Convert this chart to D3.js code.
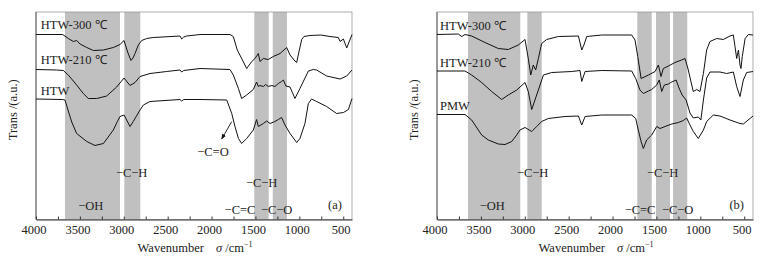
<!DOCTYPE html>
<html>
<head>
<meta charset="utf-8">
<script src="https://cdn.jsdelivr.net/npm/d3@7"></script>
<style>
  html, body { margin: 0; padding: 0; background: #fff; }
  svg text { font-family: "Liberation Serif", "Times New Roman", serif; fill: #222; }
</style>
</head>
<body>
<div id="chart"></div>
<script>
// FTIR spectra, two panels (wavenumber, transmittance a.u.)

const X_TICKS = [4000, 3500, 3000, 2500, 2000, 1500, 1000, 500];
const X_MINOR = d3.range(4000, 399, -250);

// panel (a)
const A_HTW300 = [[4000,185],[3696,185],[3632,181],[3574,178],[3537,179],[3498,175.5],[3422,172],[3346,169],[3232,169.5],[3119,172],[3043,175],[2997,179],[2956,167.5],[2918,159],[2895,161.5],[2872,166],[2834,174.5],[2796,179],[2739,181],[2664,182],[2360,183.5],[2340,180.5],[2317,182.5],[2283,183.5],[2131,185],[1790,185],[1752,183],[1707,169.5],[1648,159.5],[1600,151],[1542,158],[1505,161],[1467,166],[1448,158],[1410,161],[1354,160],[1297,163],[1220,166],[1144,172],[1106,164.5],[1050,158.5],[1030,157],[1012,164.5],[973,180],[948,183],[878,184],[755,184.5],[651,183],[556,182],[536,178],[498,180.5],[460,171.5],[400,185]];
const A_HTW210 = [[4000,150],[3764,149.5],[3689,149],[3632,144.5],[3537,134.5],[3461,126],[3404,121],[3308,121],[3195,123.5],[3081,132.5],[2997,141.5],[2929,134],[2872,137],[2815,143],[2701,146],[2512,148],[2360,149.5],[2340,147.5],[2317,149],[2131,151],[1790,150],[1752,144.5],[1694,131],[1657,121],[1600,124.5],[1524,130],[1487,137.5],[1467,133],[1448,134],[1410,133],[1384,135],[1354,133],[1313,134],[1278,133],[1239,136],[1202,138],[1182,139.5],[1153,133.5],[1106,132.5],[1050,121],[993,131],[897,148.5],[841,150],[803,149.5],[689,143.5],[536,140.5],[460,143.5],[400,149.5]];
const A_HTW = [[4000,120.5],[3696,120],[3670,119.5],[3632,108.5],[3593,97.5],[3537,86],[3422,78],[3328,74],[3232,76],[3119,89.5],[3073,98],[3043,103],[2997,104.5],[2929,93],[2892,98],[2815,109.5],[2777,114.5],[2701,118],[2360,120],[2340,118.5],[2317,120],[2131,120],[1827,119.5],[1770,106],[1733,93],[1694,81],[1657,76],[1600,81],[1524,89.5],[1487,100],[1467,93],[1410,96],[1372,98.5],[1334,96],[1278,98],[1239,100],[1202,102],[1163,94.5],[1106,86],[1030,77],[993,81],[936,96],[897,116],[860,120.5],[803,118],[689,113],[575,106],[498,107],[441,110],[400,121]];
const A_BANDS = [[3670,3043],[2994,2812],[1513,1349],[1303,1141]];

// panel (b)
const B_HTW300 = [[4000,185],[3758,185.5],[3718,183],[3681,185],[3605,183.5],[3453,177],[3302,171],[3188,170],[3074,174.5],[2997,180],[2960,161],[2932,144.5],[2903,154.5],[2876,149.5],[2845,161],[2808,176],[2750,180],[2617,183],[2389,183.5],[2351,169.5],[2326,174.5],[2294,183],[2123,184.5],[1782,184.5],[1744,179.5],[1713,163],[1675,141],[1591,144.5],[1515,148],[1478,154.5],[1448,143],[1422,151],[1364,153.5],[1289,157],[1213,159.5],[1174,161],[1137,149.5],[1098,134.5],[1080,128],[1041,130],[1004,128],[965,146],[928,169.5],[890,178],[814,181],[738,180],[662,183.5],[624,184.5],[605,173],[586,161],[566,169.5],[548,154.5],[537,151],[522,163],[490,181],[453,185],[400,184.5]];
const B_HTW210 = [[4000,148.5],[3681,148.5],[3605,144.5],[3491,137],[3377,128],[3263,120],[3188,124.5],[3092,129.5],[2997,137],[2960,128],[2921,110],[2884,119.5],[2845,129.5],[2788,144.5],[2693,147],[2465,148],[2371,149],[2351,138],[2313,148],[2123,149],[1782,148.5],[1736,141],[1688,129.5],[1649,126],[1591,128.5],[1554,130],[1497,134.5],[1468,139.5],[1440,128],[1410,134.5],[1364,135.5],[1326,137.5],[1276,139.5],[1243,131.5],[1207,124.5],[1162,119.5],[1118,106.5],[1080,101.5],[1023,102.5],[994,99.5],[965,119.5],[928,141.5],[890,147.5],[776,147.5],[700,146],[624,147.5],[586,133],[548,123],[510,139.5],[472,147],[400,148]];
const B_PMW = [[4000,105],[3681,105],[3605,99.5],[3567,94.5],[3491,84.5],[3415,79.5],[3302,75.5],[3225,75],[3149,78],[3092,84.5],[3055,89.5],[2997,92],[2921,88],[2864,93],[2808,98],[2732,101],[2541,103],[2389,103.5],[2351,94.5],[2313,103],[2123,104.5],[1782,104.5],[1736,101],[1707,89.5],[1675,78],[1649,71],[1612,79.5],[1554,84.5],[1497,93],[1460,91],[1402,93],[1326,95.5],[1250,97],[1193,99],[1156,101.5],[1118,94.5],[1080,88],[1023,81],[965,89.5],[928,98],[852,104.5],[776,103.5],[662,99.5],[548,96],[510,95.5],[400,103.5]];
const B_BANDS = [[3647,3051],[2971,2807],[1718,1554],[1505,1346],[1311,1149]];

// text placed at [wavenumber, value]
const A_LABELS = [["HTW-300 ℃",3946,190.5],["HTW-210 ℃",3946,155.5],["HTW",3946,124.5]];
const B_LABELS = [["HTW-300 ℃",3966,189.5],["HTW-210 ℃",3966,152.5],["PMW",3966,110]];
const A_NOTES = [["−OH",3377,9.5],["−C−H",2910,42.5],["−C=O",1984,64],["−C−H",1429,33],["−C=C",1676,5.5],["−C−O",1258,5.5],["(a)",594,11]];
const B_NOTES = [["−OH",3370,9.5],["−C−H",2910,42.5],["−C−H",1429,42.5],["−C=C",1687,5.5],["−C−O",1258,5.5],["(b)",586,11]];
const A_ARROW = [[1771,97.8],[1885,80.5]];

const W = 769, H = 259;
const TOP = 12, BOT = 219.5;
const PANELS = [
  { x0: 36,  x1: 352, series: [A_HTW300, A_HTW210, A_HTW], bands: A_BANDS, labels: A_LABELS, notes: A_NOTES, arrow: A_ARROW },
  { x0: 437, x1: 753, series: [B_HTW300, B_HTW210, B_PMW], bands: B_BANDS, labels: B_LABELS, notes: B_NOTES, arrow: null }
];

const svg = d3.select("#chart").append("svg").attr("width", W).attr("height", H);

const defs = svg.append("defs");
defs.append("marker").attr("id","arrowhead").attr("viewBox","0 0 10 10")
  .attr("refX",9).attr("refY",5).attr("markerWidth",6).attr("markerHeight",6)
  .attr("orient","auto")
  .append("path").attr("d","M0,1L10,5L0,9Z").attr("fill","#111");

PANELS.forEach(p => {
  const x = d3.scaleLinear().domain([4000, 400]).range([p.x0, p.x1]);
  const y = d3.scaleLinear().domain([0, 207.5]).range([BOT, TOP]);
  const g = svg.append("g");

  // shaded absorption bands
  g.selectAll(".band").data(p.bands).join("rect")
    .attr("x", d => x(d[0])).attr("width", d => x(d[1]) - x(d[0]))
    .attr("y", TOP).attr("height", BOT - TOP)
    .attr("fill", "#c0c0c0");

  // frame
  g.append("rect").attr("x", p.x0).attr("y", TOP)
    .attr("width", p.x1 - p.x0).attr("height", BOT - TOP)
    .attr("fill", "none").attr("stroke", "#999").attr("stroke-width", 0.8);
  g.append("line").attr("x1", p.x0).attr("x2", p.x0).attr("y1", TOP).attr("y2", BOT)
    .attr("stroke", "#555").attr("stroke-width", 0.9);

  // bottom axis, inward ticks
  const ax = g.append("g").attr("transform", `translate(0,${BOT})`)
    .call(d3.axisBottom(x).tickValues(X_MINOR).tickSizeInner(-3).tickSizeOuter(0).tickFormat(""));
  ax.select(".domain").attr("stroke", "#333");
  ax.selectAll(".tick line").attr("stroke", "#333");
  g.append("g").selectAll("text").data(X_TICKS).join("text")
    .attr("x", d => x(d) - 2).attr("y", BOT + 14)
    .attr("text-anchor", "middle").attr("font-size", "12.5px").text(d => d);

  // spectra
  const line = d3.line().x(d => x(d[0])).y(d => y(d[1])).curve(d3.curveLinear);
  p.series.forEach(s => {
    g.append("path").datum(s).attr("fill", "none")
      .attr("stroke", "#111").attr("stroke-width", 1).attr("stroke-linejoin", "round")
      .attr("d", line);
  });

  // series labels
  g.selectAll(".lab").data(p.labels).join("text")
    .attr("x", d => x(d[1])).attr("y", d => y(d[2]))
    .attr("font-size", "12.5px").text(d => d[0]);

  // group annotations
  g.selectAll(".note").data(p.notes).join("text")
    .attr("x", d => x(d[1])).attr("y", d => y(d[2]))
    .attr("text-anchor", "middle").attr("font-size", "12.5px").text(d => d[0]);

  if (p.arrow) {
    g.append("line")
      .attr("x1", x(p.arrow[0][0])).attr("y1", y(p.arrow[0][1]))
      .attr("x2", x(p.arrow[1][0])).attr("y2", y(p.arrow[1][1]))
      .attr("stroke", "#111").attr("stroke-width", 0.9)
      .attr("marker-end", "url(#arrowhead)");
  }

  // axis titles
  const cx = (p.x0 + p.x1) / 2;
  const xt = g.append("text").attr("x", cx + 1).attr("y", 252)
    .attr("text-anchor", "middle").attr("font-size", "12.5px");
  xt.append("tspan").text("Wavenumber");
  xt.append("tspan").attr("dx", 12).attr("font-style", "italic").text("σ");
  xt.append("tspan").text(" /cm");
  xt.append("tspan").attr("dy", -5).attr("font-size", "8px").text("−1");

  g.append("text")
    .attr("transform", `translate(${p.x0 - 19},${(TOP + BOT) / 2 - 6}) rotate(-90)`)
    .attr("text-anchor", "middle").attr("font-size", "12.5px")
    .text("Trans /(a.u.)");
});
</script>
</body>
</html>
